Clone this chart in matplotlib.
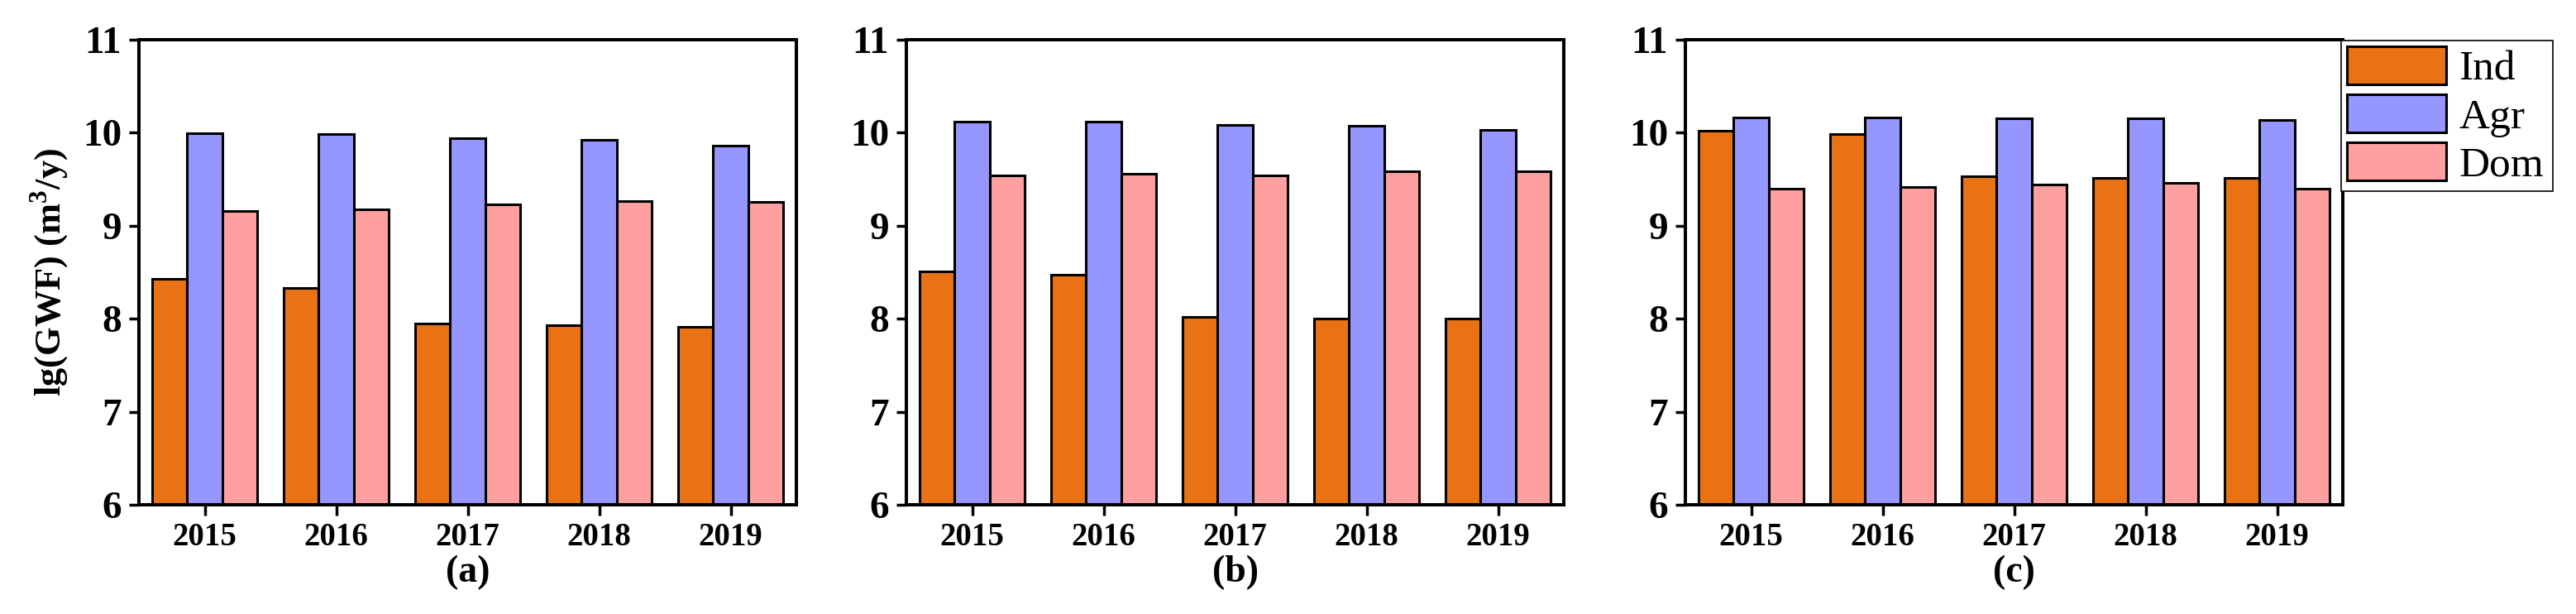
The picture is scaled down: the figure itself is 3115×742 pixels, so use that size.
import numpy as np
import matplotlib
matplotlib.use("Agg")
import matplotlib.pyplot as plt

plt.rcParams['font.family'] = ['Liberation Serif', 'DejaVu Serif']
plt.rcParams['mathtext.fontset'] = 'custom'
plt.rcParams['mathtext.rm'] = 'Liberation Serif'
plt.rcParams['mathtext.bf'] = 'Liberation Serif:bold'

# data
years = ['2015', '2016', '2017', '2018', '2019']
sectors = ['Ind', 'Agr', 'Dom']
panels = ['(a)', '(b)', '(c)']

ind_a = [8.43, 8.33, 7.95, 7.93, 7.91]
agr_a = [9.99, 9.98, 9.94, 9.92, 9.86]
dom_a = [9.16, 9.17, 9.23, 9.26, 9.25]

ind_b = [8.51, 8.47, 8.02, 8.00, 8.00]
agr_b = [10.12, 10.12, 10.08, 10.075, 10.03]
dom_b = [9.54, 9.56, 9.54, 9.58, 9.58]

ind_c = [10.02, 9.985, 9.53, 9.51, 9.51]
agr_c = [10.16, 10.16, 10.15, 10.15, 10.135]
dom_c = [9.40, 9.415, 9.44, 9.46, 9.40]

colors = ['#E97314', '#9696FF', '#FFA0A0']

data = [(ind_a, agr_a, dom_a), (ind_b, agr_b, dom_b), (ind_c, agr_c, dom_c)]

W, H = 3115, 742
fig = plt.figure(figsize=(W / 100, H / 100), dpi=100)

lefts = [168, 1096, 2038]
axw = 795
top_px, bot_px = 47.5, 610

x = np.arange(len(years))
bw = 0.8 / 3
handles = []
for i, (series, lab) in enumerate(zip(data, panels)):
    ax = fig.add_axes([lefts[i] / W, 1 - bot_px / H, axw / W, (bot_px - top_px) / H])
    for k, vals in enumerate(series):
        vals = np.array(vals)
        b = ax.bar(x + (k - 1) * bw, vals - 6, bw, bottom=6, color=colors[k],
                   edgecolor='black', linewidth=2.2, label=sectors[k])
        if i == 0:
            handles.append(b)
    ax.set_xlim(-0.5, 4.5)
    ax.set_ylim(6, 11)
    ax.set_yticks(range(6, 12))
    ax.set_xticks(x)
    ax.set_xticklabels(years)
    for s in ax.spines.values():
        s.set_linewidth(2.9)
    ax.tick_params(axis='y', direction='out', length=9, width=2.5, labelsize=34, pad=6)
    ax.tick_params(axis='x', direction='out', length=9, width=2.5, labelsize=28, pad=6)
    for t in ax.get_xticklabels() + ax.get_yticklabels():
        t.set_fontweight('bold')
    ax.set_xlabel(lab, fontsize=33, fontweight='bold', labelpad=2)
    if i == 0:
        ax.set_ylabel('lg(GWF) (m$^{\\mathbf{3}}$/y)', fontsize=32, fontweight='bold', labelpad=10)

# legend box: 2831..3087 x 49..230 px
leg = fig.legend(handles, sectors, loc='upper left',
                 bbox_to_anchor=(2831 / W, 1 - 230 / H, 256 / W, 181 / H), mode='expand',
                 borderaxespad=0, fontsize=37, handlelength=2.33, handleheight=1.0,
                 labelspacing=0.12, handletextpad=0.3, borderpad=0.14, fancybox=False,
                 framealpha=1, edgecolor='black')
leg.get_frame().set_linewidth(1.2)

fig.savefig('out.png', dpi=100)
